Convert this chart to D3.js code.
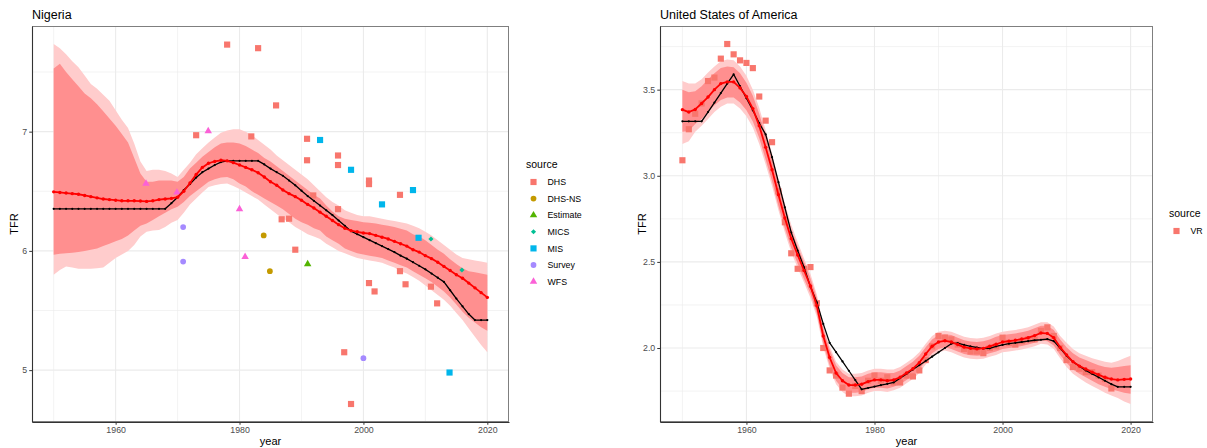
<!DOCTYPE html>
<html>
<head>
<meta charset="utf-8">
<script src="https://cdn.jsdelivr.net/npm/d3@7"></script>
<style>
  html, body { margin: 0; padding: 0; background: #fff; }
  svg { display: block; font-family: "Liberation Sans", Arial, Helvetica, sans-serif; }
</style>
</head>
<body>
<svg id="chart" width="1207" height="448"></svg>
<script>
// ---------------- data ----------------
const years = d3.range(1950, 2021);

// Nigeria: model estimate (red), reference series (black) and uncertainty bands
const ngaEstimate = [6.495, 6.49, 6.485, 6.48, 6.475, 6.465, 6.455, 6.445, 6.435, 6.43,
  6.425, 6.42, 6.42, 6.42, 6.418, 6.415, 6.42, 6.43, 6.435, 6.44,
  6.45, 6.50, 6.57, 6.64, 6.70, 6.735, 6.75, 6.76, 6.755, 6.74,
  6.72, 6.70, 6.68, 6.655, 6.62, 6.58, 6.55, 6.51, 6.48, 6.455,
  6.425, 6.39, 6.36, 6.325, 6.29, 6.255, 6.22, 6.19, 6.17, 6.16,
  6.15, 6.145, 6.13, 6.115, 6.10, 6.08, 6.06, 6.04, 6.01, 5.99,
  5.96, 5.935, 5.905, 5.87, 5.835, 5.80, 5.77, 5.73, 5.69, 5.65, 5.61];
const ngaReference = [6.353, 6.353, 6.353, 6.353, 6.353, 6.353, 6.353, 6.353, 6.353, 6.353,
  6.353, 6.353, 6.353, 6.353, 6.353, 6.353, 6.353, 6.353, 6.353, 6.40,
  6.45, 6.51, 6.56, 6.615, 6.66, 6.69, 6.72, 6.745, 6.755, 6.755,
  6.755, 6.755, 6.755, 6.755, 6.725, 6.69, 6.66, 6.63, 6.59, 6.55,
  6.505, 6.46, 6.42, 6.38, 6.34, 6.30, 6.255, 6.21, 6.165, 6.14,
  6.115, 6.09, 6.065, 6.04, 6.015, 5.99, 5.96, 5.935, 5.905, 5.875,
  5.845, 5.81, 5.775, 5.74, 5.67, 5.60, 5.535, 5.47, 5.42, 5.42, 5.42];
const ngaUpper95 = [7.735, 7.70, 7.65, 7.59, 7.54, 7.47, 7.40, 7.36, 7.31, 7.26,
  7.18, 7.10, 7.03, 6.90, 6.75, 6.67, 6.68, 6.68, 6.67, 6.65,
  6.62, 6.68, 6.74, 6.81, 6.86, 6.91, 6.95, 6.99, 7.01, 7.02,
  7.02, 7.00, 6.97, 6.93, 6.89, 6.85, 6.80, 6.76, 6.72, 6.68,
  6.64, 6.60, 6.55, 6.50, 6.45, 6.41, 6.38, 6.34, 6.32, 6.30,
  6.29, 6.29, 6.28, 6.27, 6.26, 6.25, 6.24, 6.23, 6.21, 6.19,
  6.16, 6.13, 6.09, 6.05, 6.01, 5.97, 5.94, 5.93, 5.92, 5.91, 5.90];
const ngaUpper80 = [7.53, 7.57, 7.50, 7.44, 7.38, 7.32, 7.28, 7.23, 7.17, 7.11,
  7.05, 6.98, 6.91, 6.78, 6.65, 6.58, 6.58, 6.59, 6.59, 6.59,
  6.58, 6.62, 6.69, 6.74, 6.79, 6.83, 6.87, 6.90, 6.91, 6.91,
  6.90, 6.88, 6.85, 6.82, 6.78, 6.75, 6.71, 6.67, 6.63, 6.59,
  6.55, 6.51, 6.47, 6.44, 6.38, 6.33, 6.29, 6.27, 6.26, 6.25,
  6.24, 6.235, 6.23, 6.22, 6.21, 6.20, 6.185, 6.17, 6.14, 6.12,
  6.09, 6.05, 6.01, 5.975, 5.93, 5.89, 5.855, 5.83, 5.82, 5.81, 5.80];
const ngaLower80 = [5.967, 5.975, 5.98, 5.985, 5.99, 6.00, 6.01, 6.02, 6.04, 6.06,
  6.08, 6.10, 6.13, 6.17, 6.21, 6.23, 6.26, 6.29, 6.32, 6.35,
  6.37, 6.41, 6.46, 6.50, 6.54, 6.58, 6.60, 6.615, 6.62, 6.60,
  6.565, 6.54, 6.50, 6.47, 6.44, 6.41, 6.38, 6.35, 6.31, 6.27,
  6.24, 6.22, 6.19, 6.17, 6.12, 6.09, 6.06, 6.02, 6.00, 5.98,
  5.97, 5.96, 5.95, 5.94, 5.92, 5.90, 5.88, 5.86, 5.83, 5.80,
  5.77, 5.74, 5.70, 5.66, 5.61, 5.55, 5.49, 5.44, 5.40, 5.36, 5.33];
const ngaLower95 = [5.80, 5.84, 5.87, 5.86, 5.85, 5.85, 5.85, 5.855, 5.86, 5.90,
  5.94, 5.97, 6.00, 6.05, 6.12, 6.16, 6.17, 6.175, 6.20, 6.235,
  6.26, 6.32, 6.39, 6.44, 6.49, 6.535, 6.55, 6.56, 6.565, 6.545,
  6.52, 6.49, 6.46, 6.43, 6.39, 6.35, 6.31, 6.27, 6.24, 6.20,
  6.17, 6.14, 6.12, 6.10, 6.06, 6.03, 6.00, 5.98, 5.96, 5.94,
  5.93, 5.92, 5.91, 5.90, 5.88, 5.86, 5.83, 5.81, 5.78, 5.75,
  5.71, 5.67, 5.63, 5.59, 5.54, 5.48, 5.42, 5.35, 5.28, 5.21, 5.15];

// Nigeria: survey observations
const ngaObsYear = [1978.0, 1983.0, 1985.9, 1973.0, 1981.9, 1986.8, 1988.0, 1989.0, 1990.9, 1990.9,
  1991.9, 1995.9, 1995.9, 1995.9, 2000.9, 2000.9, 2005.9, 2005.9, 2000.9, 2001.8,
  2006.8, 2010.9, 2011.9, 1996.9, 1998.0,
  1993.0, 1998.0, 2003.0, 2008.0, 2008.9, 2013.9,
  2010.9, 2015.9,
  1991.0,
  1983.9, 1984.9,
  1970.9, 1970.9, 2000.0,
  1964.9, 1974.95, 1969.9, 1980.0, 1980.9];
const ngaObsTFR = [7.73, 7.70, 7.22, 6.97, 6.96, 6.265, 6.27, 6.01, 6.94, 6.76,
  6.465, 6.80, 6.72, 6.35, 6.59, 6.56, 6.47, 5.83, 5.73, 5.66,
  5.72, 5.70, 5.56, 5.15, 4.716,
  6.93, 6.68, 6.39, 6.51, 6.11, 4.98,
  6.10, 5.84,
  5.89,
  6.13, 5.83,
  6.20, 5.91, 5.10,
  6.565, 7.005, 6.49, 6.35, 5.95];
const ngaObsSource = ["DHS", "DHS", "DHS", "DHS", "DHS", "DHS", "DHS", "DHS", "DHS", "DHS",
  "DHS", "DHS", "DHS", "DHS", "DHS", "DHS", "DHS", "DHS", "DHS", "DHS",
  "DHS", "DHS", "DHS", "DHS", "DHS",
  "MIS", "MIS", "MIS", "MIS", "MIS", "MIS",
  "MICS", "MICS",
  "Estimate",
  "DHS-NS", "DHS-NS",
  "Survey", "Survey", "Survey",
  "WFS", "WFS", "WFS", "WFS", "WFS"];

// United States of America
const usaEstimate = [3.384, 3.37, 3.385, 3.42, 3.457, 3.50, 3.535, 3.545, 3.545, 3.51,
  3.46, 3.39, 3.29, 3.165, 3.035, 2.89, 2.755, 2.635, 2.54, 2.45,
  2.36, 2.245, 2.07, 1.945, 1.855, 1.81, 1.785, 1.785, 1.79, 1.805,
  1.815, 1.815, 1.81, 1.815, 1.83, 1.855, 1.88, 1.915, 1.965, 2.01,
  2.035, 2.042, 2.035, 2.02, 2.005, 1.998, 1.995, 1.998, 2.01, 2.022,
  2.035, 2.04, 2.045, 2.052, 2.06, 2.072, 2.087, 2.085, 2.06, 2.004,
  1.96, 1.92, 1.895, 1.878, 1.86, 1.845, 1.83, 1.82, 1.815, 1.818, 1.82];
const usaReference = [3.316, 3.316, 3.316, 3.316, 3.37, 3.425, 3.48, 3.535, 3.589, 3.52,
  3.45, 3.38, 3.306, 3.24, 3.108, 2.963, 2.817, 2.67, 2.566, 2.469,
  2.355, 2.265, 2.14, 2.03, 1.976, 1.922, 1.868, 1.814, 1.76, 1.768,
  1.776, 1.784, 1.792, 1.80, 1.825, 1.85, 1.875, 1.90, 1.925, 1.95,
  1.975, 2.00, 2.025, 2.028, 2.018, 2.01, 2.003, 1.996, 1.998, 2.01,
  2.018, 2.025, 2.03, 2.035, 2.04, 2.045, 2.048, 2.052, 2.04, 2.00,
  1.955, 1.92, 1.895, 1.87, 1.85, 1.83, 1.81, 1.79, 1.775, 1.775, 1.775];
const usaUpper95 = [3.55, 3.535, 3.535, 3.56, 3.60, 3.635, 3.665, 3.675, 3.67, 3.635,
  3.58, 3.50, 3.395, 3.265, 3.13, 2.98, 2.84, 2.715, 2.615, 2.52,
  2.43, 2.31, 2.135, 2.01, 1.92, 1.875, 1.85, 1.85, 1.855, 1.87,
  1.88, 1.88, 1.875, 1.875, 1.89, 1.915, 1.94, 1.975, 2.025, 2.07,
  2.095, 2.10, 2.095, 2.08, 2.065, 2.058, 2.055, 2.06, 2.07, 2.085,
  2.095, 2.10, 2.105, 2.112, 2.12, 2.135, 2.15, 2.15, 2.125, 2.07,
  2.03, 1.995, 1.97, 1.955, 1.94, 1.93, 1.92, 1.915, 1.925, 1.94, 1.955];
const usaUpper80 = [3.50, 3.485, 3.49, 3.52, 3.56, 3.595, 3.625, 3.635, 3.63, 3.595,
  3.54, 3.465, 3.36, 3.235, 3.10, 2.955, 2.815, 2.69, 2.59, 2.50,
  2.405, 2.29, 2.115, 1.99, 1.90, 1.855, 1.83, 1.83, 1.835, 1.85,
  1.86, 1.86, 1.855, 1.855, 1.87, 1.895, 1.92, 1.955, 2.005, 2.05,
  2.075, 2.08, 2.075, 2.06, 2.045, 2.038, 2.035, 2.04, 2.05, 2.065,
  2.075, 2.08, 2.085, 2.092, 2.10, 2.115, 2.13, 2.13, 2.105, 2.05,
  2.005, 1.97, 1.945, 1.93, 1.915, 1.90, 1.89, 1.885, 1.89, 1.895, 1.90];
const usaLower80 = [3.255, 3.26, 3.30, 3.33, 3.37, 3.41, 3.44, 3.455, 3.455, 3.425,
  3.38, 3.315, 3.22, 3.095, 2.97, 2.825, 2.695, 2.58, 2.49, 2.40,
  2.315, 2.20, 2.025, 1.90, 1.81, 1.765, 1.74, 1.74, 1.745, 1.76,
  1.77, 1.77, 1.765, 1.775, 1.79, 1.815, 1.84, 1.875, 1.925, 1.97,
  1.995, 2.005, 1.995, 1.98, 1.965, 1.958, 1.955, 1.958, 1.97, 1.98,
  1.995, 2.00, 2.005, 2.012, 2.02, 2.03, 2.045, 2.04, 2.015, 1.96,
  1.915, 1.875, 1.85, 1.83, 1.81, 1.79, 1.775, 1.76, 1.75, 1.74, 1.735];
const usaLower95 = [3.185, 3.20, 3.255, 3.29, 3.33, 3.37, 3.40, 3.42, 3.42, 3.39,
  3.345, 3.28, 3.185, 3.065, 2.94, 2.80, 2.67, 2.555, 2.465, 2.38,
  2.29, 2.18, 2.005, 1.88, 1.79, 1.745, 1.72, 1.72, 1.725, 1.74,
  1.75, 1.75, 1.745, 1.755, 1.77, 1.795, 1.82, 1.855, 1.905, 1.95,
  1.975, 1.985, 1.975, 1.96, 1.945, 1.938, 1.935, 1.938, 1.95, 1.96,
  1.975, 1.98, 1.985, 1.992, 2.00, 2.01, 2.025, 2.02, 1.995, 1.94,
  1.89, 1.85, 1.825, 1.80, 1.78, 1.76, 1.74, 1.725, 1.71, 1.69, 1.675];

// United States: vital registration observations
const usaObsYear = [1950, 1951, 1952, 1953, 1954, 1955, 1956, 1957, 1958, 1959,
  1960, 1961, 1962, 1963, 1964, 1965, 1966, 1967, 1968, 1969,
  1970, 1971, 1972, 1973, 1974, 1975, 1976, 1977, 1978, 1979,
  1980, 1981, 1982, 1983, 1984, 1985, 1986, 1987, 1988, 1989,
  1990, 1991, 1992, 1993, 1994, 1995, 1996, 1997, 1998, 1999,
  2000, 2001, 2002, 2003, 2004, 2005, 2006, 2007, 2008, 2009,
  2010, 2011, 2012, 2013, 2014, 2015, 2016, 2017];
const usaObsTFR = [3.09, 3.27, 3.36, 3.42, 3.55, 3.57, 3.68, 3.765, 3.705, 3.67,
  3.655, 3.625, 3.46, 3.32, 3.195, 2.91, 2.73, 2.55, 2.46, 2.46,
  2.47, 2.26, 2.00, 1.87, 1.84, 1.77, 1.735, 1.78, 1.75, 1.81,
  1.84, 1.81, 1.83, 1.80, 1.80, 1.84, 1.835, 1.87, 1.93, 2.01,
  2.07, 2.06, 2.05, 2.02, 1.995, 1.98, 1.98, 1.97, 2.00, 2.01,
  2.06, 2.03, 2.02, 2.04, 2.05, 2.05, 2.10, 2.12, 2.07, 2.00,
  1.93, 1.89, 1.88, 1.86, 1.86, 1.84, 1.82, 1.765];
const usaObsSource = usaObsYear.map(() => "VR");

// axis ticks
const xMajorTicks = [1960, 1980, 2000, 2020];
const xMinorTicks = [1950, 1970, 1990, 2010];
const ngaYMajor = [5, 6, 7];
const ngaYMinor = [5.5, 6.5, 7.5];
const usaYMajor = [2.0, 2.5, 3.0, 3.5];
const usaYMinor = [1.75, 2.25, 2.75, 3.25, 3.75];

// source levels and their colour / symbol
const sourceLevels = ["DHS", "DHS-NS", "Estimate", "MICS", "MIS", "Survey", "WFS"];
const sourceColors = ["#F8766D", "#C49A00", "#53B400", "#00C094", "#00B6EB", "#A58AFF", "#FB61D7"];
const sourceShapes = ["square", "circle", "triangle", "diamond", "square", "circle", "triangle"];

// ---------------- drawing ----------------
const svg = d3.select("#chart");

// symbol type, area and rotation per shape name
const symbolTypes = {
  square: { type: d3.symbolSquare, size: 38, rotate: 0 },
  circle: { type: d3.symbolCircle, size: 26, rotate: 0 },
  triangle: { type: d3.symbolTriangle, size: 24, rotate: 0 },
  diamond: { type: d3.symbolSquare, size: 13, rotate: 45 }
};

function symbolPath(shape) {
  const s = symbolTypes[shape];
  return d3.symbol().type(s.type).size(s.size)();
}

function symbolTransform(shape, cx, cy) {
  const s = symbolTypes[shape];
  return `translate(${cx},${cy})` + (s.rotate ? ` rotate(${s.rotate})` : "");
}

function expandExtent(values) {
  const [lo, hi] = d3.extent(values);
  const pad = (hi - lo) * 0.05;
  return [lo - pad, hi + pad];
}

function drawPanel(p) {
  const g = svg.append("g");
  const x = d3.scaleLinear()
    .domain(expandExtent([1950, 2020]))
    .range([p.left, p.right]);
  const y = d3.scaleLinear()
    .domain(expandExtent([].concat(p.upper95, p.lower95, p.obsTFR)))
    .range([p.bottom, p.top]);

  // panel background + grid
  g.append("rect").attr("x", p.left).attr("y", p.top)
    .attr("width", p.right - p.left).attr("height", p.bottom - p.top).attr("fill", "#fff");

  const grid = g.append("g").attr("stroke", "#ebebeb").attr("fill", "none");
  p.yMinor.forEach(v => grid.append("line").attr("x1", p.left).attr("x2", p.right)
    .attr("y1", y(v)).attr("y2", y(v)).attr("stroke-width", 0.6));
  xMinorTicks.forEach(v => grid.append("line").attr("y1", p.top).attr("y2", p.bottom)
    .attr("x1", x(v)).attr("x2", x(v)).attr("stroke-width", 0.6));
  p.yMajor.forEach(v => grid.append("line").attr("x1", p.left).attr("x2", p.right)
    .attr("y1", y(v)).attr("y2", y(v)).attr("stroke-width", 1.1));
  xMajorTicks.forEach(v => grid.append("line").attr("y1", p.top).attr("y2", p.bottom)
    .attr("x1", x(v)).attr("x2", x(v)).attr("stroke-width", 1.1));

  // uncertainty ribbons
  const rows = years.map((yr, i) => ({
    yr, est: p.estimate[i], ref: p.reference[i],
    u95: p.upper95[i], l95: p.lower95[i], u80: p.upper80[i], l80: p.lower80[i]
  }));
  g.append("path").datum(rows).attr("fill", "#FFCCCC")
    .attr("d", d3.area().x(d => x(d.yr)).y0(d => y(d.l95)).y1(d => y(d.u95)));
  g.append("path").datum(rows).attr("fill", "#FF8F8F")
    .attr("d", d3.area().x(d => x(d.yr)).y0(d => y(d.l80)).y1(d => y(d.u80)));

  // observations
  const obs = p.obsYear.map((yr, i) => ({ yr, v: p.obsTFR[i], src: p.obsSource[i] }));
  g.append("g").selectAll("path").data(obs).join("path")
    .attr("transform", d => symbolTransform(p.shapeOf(d.src), x(d.yr), y(d.v)))
    .attr("d", d => symbolPath(p.shapeOf(d.src)))
    .attr("fill", d => p.colorOf(d.src));

  // reference series (black)
  g.append("path").datum(rows).attr("fill", "none").attr("stroke", "#000")
    .attr("stroke-width", 1.3).attr("stroke-linejoin", "round")
    .attr("d", d3.line().x(d => x(d.yr)).y(d => y(d.ref)));
  g.append("g").selectAll("circle").data(rows).join("circle")
    .attr("cx", d => x(d.yr)).attr("cy", d => y(d.ref)).attr("r", 1.1).attr("fill", "#000");

  // model estimate (red)
  g.append("path").datum(rows).attr("fill", "none").attr("stroke", "#FF0000")
    .attr("stroke-width", 1.8).attr("stroke-linejoin", "round")
    .attr("d", d3.line().x(d => x(d.yr)).y(d => y(d.est)));
  g.append("g").selectAll("circle").data(rows).join("circle")
    .attr("cx", d => x(d.yr)).attr("cy", d => y(d.est)).attr("r", 1.7).attr("fill", "#FF0000");

  // panel border and axis lines
  g.append("rect").attr("x", p.left + 0.5).attr("y", p.top + 0.5)
    .attr("width", p.right - p.left - 1).attr("height", p.bottom - p.top - 1)
    .attr("fill", "none").attr("stroke", "#7f7f7f").attr("stroke-width", 1);

  const xAxis = g.append("g").attr("transform", `translate(0,${p.bottom})`)
    .call(d3.axisBottom(x).tickValues(xMajorTicks).tickFormat(d3.format("d"))
      .tickSizeInner(2.75).tickSizeOuter(0).tickPadding(2));
  const yAxis = g.append("g").attr("transform", `translate(${p.left},0)`)
    .call(d3.axisLeft(y).tickValues(p.yMajor).tickFormat(p.yFormat)
      .tickSizeInner(2.75).tickSizeOuter(0).tickPadding(2));
  [xAxis, yAxis].forEach(a => {
    a.select(".domain").attr("stroke", "#333").attr("stroke-width", 1.1);
    a.selectAll(".tick line").attr("stroke", "#333");
    a.selectAll(".tick text").attr("fill", "#4d4d4d").attr("font-size", 8.8)
      .attr("font-family", "Liberation Sans, Arial, sans-serif");
  });

  // titles
  g.append("text").attr("x", p.left).attr("y", 18.5).attr("font-size", 12.5)
    .attr("fill", "#000").text(p.title);
  g.append("text").attr("x", (p.left + p.right) / 2).attr("y", 445)
    .attr("text-anchor", "middle").attr("font-size", 11).text("year");
  g.append("text").attr("transform", `translate(${p.left - 14.5},${(p.top + p.bottom) / 2}) rotate(-90)`)
    .attr("text-anchor", "middle").attr("font-size", 11).text("TFR");

  // legend
  const lg = g.append("g");
  lg.append("text").attr("x", p.legendX).attr("y", p.legendY).attr("font-size", 10.5).text("source");
  p.legendLevels.forEach((lvl, i) => {
    const cy = p.legendY + 14 + i * 16.6;
    lg.append("path").attr("transform", symbolTransform(p.shapeOf(lvl), p.legendX + 7.5, cy))
      .attr("d", symbolPath(p.shapeOf(lvl))).attr("fill", p.colorOf(lvl));
    lg.append("text").attr("x", p.legendX + 21.5).attr("y", cy + 3.2)
      .attr("font-size", 8.8).text(lvl);
  });
}

const srcColor = d3.scaleOrdinal().domain(sourceLevels).range(sourceColors);
const srcShape = d3.scaleOrdinal().domain(sourceLevels).range(sourceShapes);

drawPanel({
  title: "Nigeria",
  left: 32, right: 509, top: 26, bottom: 422,
  estimate: ngaEstimate, reference: ngaReference,
  upper95: ngaUpper95, upper80: ngaUpper80, lower80: ngaLower80, lower95: ngaLower95,
  obsYear: ngaObsYear, obsTFR: ngaObsTFR, obsSource: ngaObsSource,
  yMajor: ngaYMajor, yMinor: ngaYMinor, yFormat: d3.format("d"),
  colorOf: s => srcColor(s), shapeOf: s => srcShape(s),
  legendX: 526, legendY: 168, legendLevels: sourceLevels
});

drawPanel({
  title: "United States of America",
  left: 660, right: 1153, top: 26, bottom: 422,
  estimate: usaEstimate, reference: usaReference,
  upper95: usaUpper95, upper80: usaUpper80, lower80: usaLower80, lower95: usaLower95,
  obsYear: usaObsYear, obsTFR: usaObsTFR, obsSource: usaObsSource,
  yMajor: usaYMajor, yMinor: usaYMinor, yFormat: d3.format(".1f"),
  colorOf: () => "#F8766D", shapeOf: () => "square",
  legendX: 1169, legendY: 217, legendLevels: ["VR"]
});
</script>
</body>
</html>
